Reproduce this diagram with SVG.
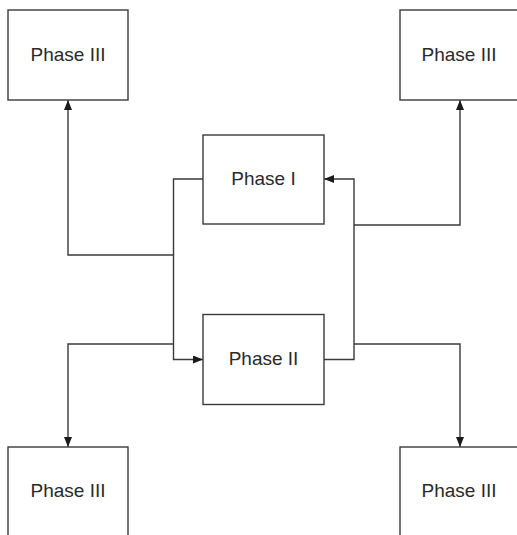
<svg xmlns="http://www.w3.org/2000/svg" width="517" height="535" viewBox="0 0 517 535">
<defs>
<style>
.box{fill:#ffffff;stroke:#3a3a3a;stroke-width:1.4}
.lbl{font-family:"Liberation Sans",Arial,sans-serif;font-size:19px;fill:#2a2a2a;text-anchor:middle}
.conn{fill:none;stroke:#3a3a3a;stroke-width:1.4}
</style>
<marker id="arr" viewBox="0 0 10 8" refX="10" refY="4" markerWidth="10" markerHeight="8" markerUnits="userSpaceOnUse" orient="auto">
<path d="M0,0 L10,4 L0,8 Z" fill="#1a1a1a"/>
</marker>
</defs>
<rect width="517" height="535" fill="#ffffff"/>
<g id="connectors">
<path class="conn" d="M203,179 H173.5 V359.5 H203" marker-end="url(#arr)"/>
<path class="conn" d="M173.5,255 H68 V100" marker-end="url(#arr)"/>
<path class="conn" d="M173.5,344 H68 V447" marker-end="url(#arr)"/>
<path class="conn" d="M324,359.5 H354 V179 H324" marker-end="url(#arr)"/>
<path class="conn" d="M354,225 H460 V100" marker-end="url(#arr)"/>
<path class="conn" d="M354,344 H460 V447" marker-end="url(#arr)"/>
</g>
<g id="phase3-tl"><rect class="box" x="8" y="10" width="120" height="90"/><text class="lbl" x="68" y="60.5">Phase III</text></g>
<g id="phase3-tr"><rect class="box" x="400" y="10" width="120" height="90"/><text class="lbl" x="459" y="60.5">Phase III</text></g>
<g id="phase1"><rect class="box" x="203" y="135" width="121" height="89"/><text class="lbl" x="263.5" y="184.5">Phase I</text></g>
<g id="phase2"><rect class="box" x="203" y="314.5" width="121" height="90"/><text class="lbl" x="263.5" y="365">Phase II</text></g>
<g id="phase3-bl"><rect class="box" x="8" y="447" width="120" height="100"/><text class="lbl" x="68" y="497">Phase III</text></g>
<g id="phase3-br"><rect class="box" x="400" y="447" width="120" height="100"/><text class="lbl" x="459" y="497">Phase III</text></g>
</svg>
